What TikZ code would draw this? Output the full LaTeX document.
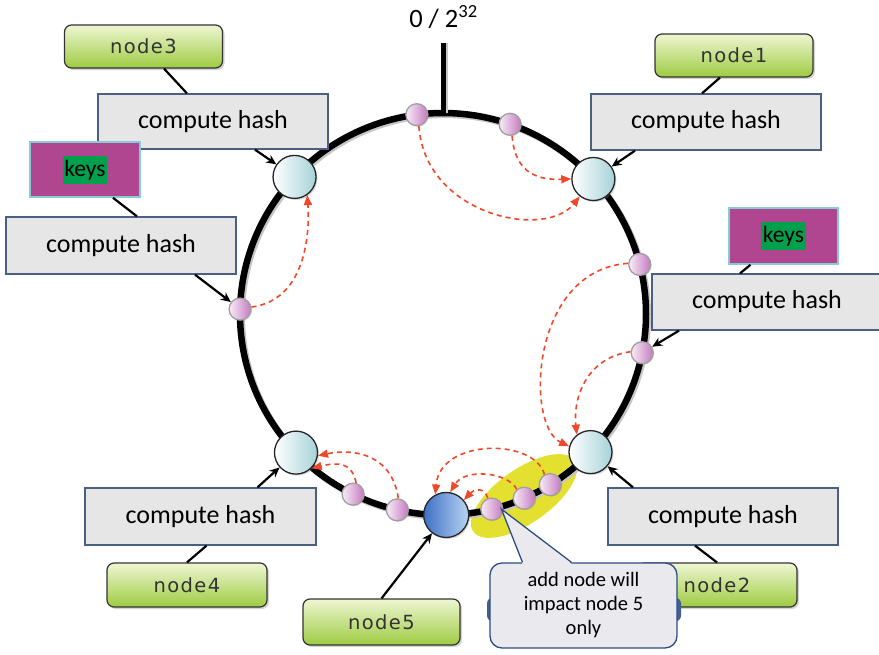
\documentclass[tikz,border=0pt]{standalone}
\usepackage{fontspec}
\setmainfont{Carlito}
\newfontfamily\nodefont[LetterSpace=7]{DejaVu Sans}
\usetikzlibrary{arrows.meta,shapes.geometric,shadows,calc}
\definecolor{hashfill}{HTML}{E6E6E6}
\definecolor{hashdraw}{HTML}{4A5F82}
\definecolor{greentop}{HTML}{EEF6D2}
\definecolor{greenbot}{HTML}{9ECB42}
\definecolor{keysfill}{HTML}{B0468F}
\definecolor{keysdraw}{HTML}{86CBD6}
\definecolor{keysgreen}{HTML}{00A04C}
\definecolor{redarr}{HTML}{F0482A}
\definecolor{pinkL}{HTML}{F8ECF6}
\definecolor{pinkR}{HTML}{C47AC0}
\definecolor{cyanR}{HTML}{A6D2D8}
\definecolor{blueL}{HTML}{3F70C4}
\definecolor{blueR}{HTML}{B8D4F2}
\definecolor{yel}{HTML}{E4E030}
\definecolor{callfill}{HTML}{E9E9EE}
\definecolor{calldraw}{HTML}{2E4C82}
\setlength{\fboxsep}{1.5pt}
\begin{document}
\begin{tikzpicture}[x=1pt,y=-1pt,
  hashbox/.style={draw=hashdraw, line width=1.3pt, fill=hashfill, minimum width=230pt, minimum height=56pt, inner sep=0pt, font=\fontsize{26}{30}\selectfont},
  greenbox/.style={draw=black!80, line width=1.2pt, rounded corners=7pt, top color=greentop, bottom color=greenbot, minimum width=158pt, minimum height=43pt, inner sep=0pt, text=black!80, font=\nodefont\fontsize{19.5}{22}\selectfont, drop shadow={shadow xshift=2pt, shadow yshift=-2pt, opacity=0.35}},
  keysbox/.style={draw=keysdraw, line width=1.6pt, fill=keysfill, minimum width=110pt, minimum height=55pt, inner sep=0pt, font=\fontsize{23.5}{26}\selectfont},
  ringnode/.style={circle, draw=black!85, line width=1.3pt, left color=white, right color=cyanR, minimum size=43pt, inner sep=0pt, drop shadow={shadow xshift=1.5pt, shadow yshift=-1.5pt, opacity=0.3}},
  newnode/.style={ringnode, left color=blueL, right color=blueR, minimum size=45pt},
  pinknode/.style={circle, draw=gray!75, line width=1.3pt, left color=pinkL, right color=pinkR, minimum size=22pt, inner sep=0pt, drop shadow={shadow xshift=1pt, shadow yshift=-1pt, opacity=0.3}},
  link/.style={line width=2.2pt, black},
  harrow/.style={line width=2.2pt, black, -{Stealth[length=10pt,width=9pt]}},
  redarrow/.style={draw=redarr, line width=1.6pt, dash pattern=on 5pt off 4pt, -{Triangle[length=10pt,width=8pt]}},
  ringline/.style={line width=6.5pt, black},
  callbox/.style={draw=calldraw, line width=1.3pt, fill=callfill, rounded corners=12pt, minimum width=187pt, minimum height=85pt, inner sep=0pt, align=center, font=\fontsize{20.5}{24}\selectfont}
]
\useasboundingbox (0,0) rectangle (879,654);
\coordinate (ctr) at (443,314);

% highlight
\node[ellipse, fill=yel, minimum width=124pt, minimum height=54pt, rotate=35] (hl) at (524,496) {};

% ring
\draw[ringline, gray!45] ([xshift=1.8pt,yshift=-1.8pt]ctr) ellipse [x radius=203, y radius=201];
\draw[ringline] (ctr) ellipse [x radius=203, y radius=201];

% tick
\coordinate (ticktop) at (443,43);
\coordinate (ringtop) at (443,113);
\draw[line width=5pt, gray!45] ([xshift=2.5pt]ticktop) -- ([xshift=2.5pt]ringtop);
\draw[line width=5pt] (ticktop) -- (ringtop);
\node[anchor=base, font=\fontsize{26.5}{30}\selectfont, inner sep=0pt] (zero) at (443.5,27) {0 / 2\textsuperscript{32}};

% ring nodes
\node[ringnode] (c3) at ($(ctr)+(-137:203 and 201)$) {};
\node[ringnode] (c1) at ($(ctr)+(-42.2:203 and 201)$) {};
\node[ringnode] (c4) at ($(ctr)+(136.4:203 and 201)$) {};
\node[ringnode] (c2) at ($(ctr)+(43.4:203 and 201)$) {};
\node[newnode] (c5) at ($(ctr)+(89.1:203 and 201)$) {};

% key points
\node[pinknode] (p1) at ($(ctr)+(-97.4:203 and 201)$) {};
\node[pinknode] (p2) at ($(ctr)+(-70.7:203 and 201)$) {};
\node[pinknode] (pL) at ($(ctr)+(-178.6:203 and 201)$) {};
\node[pinknode] (pR1) at ($(ctr)+(-14.3:203 and 201)$) {};
\node[pinknode] (pR2) at ($(ctr)+(11.1:203 and 201)$) {};
\node[pinknode] (pB1) at ($(ctr)+(116.3:203 and 201)$) {};
\node[pinknode] (pB2) at ($(ctr)+(103:203 and 201)$) {};
\node[pinknode] (pB3) at ($(ctr)+(76.1:203 and 201)$) {};
\node[pinknode] (pB4) at ($(ctr)+(66.4:203 and 201)$) {};
\node[pinknode] (pB5) at ($(ctr)+(58.1:203 and 201)$) {};

% red dashed arrows
\draw[redarrow] (p1.-80) .. controls (425,215) and (545,240) .. (c1.-128);
\draw[redarrow] (p2.-80) .. controls (515,175) and (540,180) .. (c1.180);
\draw[redarrow] (pL.10) .. controls (305,300) and (310,235) .. (c3.-55);
\draw[redarrow] (pR1.175) .. controls (530,270) and (525,425) .. (c2.165);
\draw[redarrow] (pR2.175) .. controls (585,358) and (573,400) .. (c2.128);
\draw[redarrow] (pB1.75) .. controls (352,462) and (338,462) .. (c4.-45);
\draw[redarrow] (pB2.85) .. controls (392,455) and (355,448) .. (c4.-8);
\draw[redarrow] (pB5.120) .. controls (535,438) and (440,438) .. (c5.118);
\draw[redarrow] (pB4.130) .. controls (508,472) and (465,468) .. (c5.80);
\draw[redarrow] (pB3.110) .. controls (485,488) and (475,488) .. (c5.40);

% boxes
\node[greenbox] (node3g) at (143.5,46.5) {node3};
\node[greenbox] (node1g) at (734,55.5) {node1};
\node[greenbox, minimum width=160pt, minimum height=44pt] (node4g) at (187,585) {node4};
\node[greenbox, minimum width=160pt, minimum height=44pt] (node2g) at (717,585) {node2};
\node[greenbox, minimum width=157pt, minimum height=46pt] (node5g) at (381.5,622) {node5};

\node[hashbox, minimum height=55pt] (hTL) at (213,121.5) {compute hash};
\node[hashbox] (hTR) at (706,122) {compute hash};
\node[hashbox, minimum height=57pt] (hL) at (121,245.5) {compute hash};
\node[hashbox] (hR) at (767,302) {compute hash};
\node[hashbox, minimum width=231pt, minimum height=57pt] (hBL) at (200.5,516.5) {compute hash};
\node[hashbox, minimum height=57pt] (hBR) at (723,516.5) {compute hash};

\node[keysbox] (kL) at (85,169.5) {\colorbox{keysgreen}{\rule[-6pt]{0pt}{25pt}keys}};
\node[keysbox, minimum width=109pt, minimum height=56pt] (kR) at (783.5,236) {\colorbox{keysgreen}{\rule[-6pt]{0pt}{25pt}keys}};

% black connectors
\draw[link] (node3g) -- (hTL);
\draw[link] ([xshift=-14pt]node1g.south) -- ([xshift=-4pt]hTR.north);
\draw[link] ([xshift=28pt]kL.south) -- ([xshift=16pt]hL.north);
\draw[link] ([xshift=-33pt]kR.south) -- ([xshift=-27pt]hR.north);
\draw[link] (node4g.north) -- ([xshift=6pt]hBL.south);
\draw[link] (node2g.north) -- ([xshift=-28pt]hBR.south);

\draw[harrow] ([xshift=42pt]hTL.south) -- (c3);
\draw[harrow] ([xshift=-71pt]hTR.south) -- (c1);
\draw[harrow] ([xshift=74pt]hL.south) -- (pL);
\draw[harrow] ([xshift=-88pt]hR.south) -- (pR2);
\draw[harrow] ([xshift=57pt]hBL.north) -- (c4);
\draw[harrow] ([xshift=-90pt]hBR.north) -- (c2);
\draw[harrow] (node5g.north) -- (c5);

% callout
\node[fill=calldraw!90, rounded corners=6pt, minimum width=194pt, minimum height=24pt, inner sep=0pt] (callback) at (584,609.5) {};
\node[callbox] (call) at (583.5,605.5) {add node will\\impact node 5\\only};
\coordinate (tip) at ([xshift=-2pt]pB3.east);
\fill[callfill] ([xshift=-61pt,yshift=-1.5pt]call.north) -- (tip) -- ([xshift=-12pt,yshift=-1.5pt]call.north) -- cycle;
\draw[calldraw, line width=1.3pt, line join=miter] ([xshift=-61pt]call.north) -- (tip) -- ([xshift=-12pt]call.north);
\end{tikzpicture}
\end{document}
